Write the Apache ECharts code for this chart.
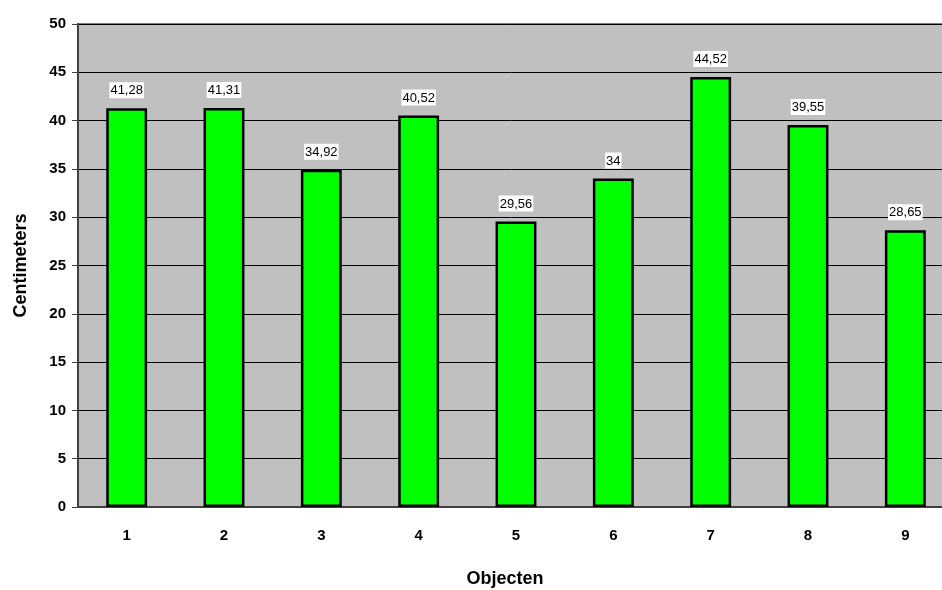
<!DOCTYPE html>
<html>
<head>
<meta charset="utf-8">
<script src="https://cdn.jsdelivr.net/npm/echarts@6/dist/echarts.min.js"></script>
<style>
  html, body { margin: 0; padding: 0; background: #ffffff; }
  #chart { width: 942px; height: 590px; }
</style>
</head>
<body>
<div id="chart"></div>
<script>
// Measured lengths per object (cm)
const categories = ['1', '2', '3', '4', '5', '6', '7', '8', '9'];
const values = [41.28, 41.31, 34.92, 40.52, 29.56, 34, 44.52, 39.55, 28.65];
const yTicks = { min: 0, max: 50, interval: 5 };

const fmt = v => String(v).replace('.', ',');

const chart = echarts.init(document.getElementById('chart'));
chart.setOption({
  animation: false,
  textStyle: { fontFamily: 'Liberation Sans, Arial, sans-serif' },
  grid: {
    left: 78, top: 24, width: 876, height: 483,
    outerBoundsMode: 'none',
    containLabel: false,
    show: true, backgroundColor: '#c0c0c0', borderColor: '#808080', borderWidth: 2
  },
  xAxis: {
    type: 'category',
    data: categories,
    name: 'Objecten',
    nameLocation: 'middle',
    nameGap: 63,
    nameTextStyle: { fontSize: 18, fontWeight: 'bold', color: '#000', padding: [0, 22, 0, 0] },
    axisLine: { lineStyle: { color: '#404040', width: 2 } },
    axisTick: { show: false },
    axisLabel: { fontSize: 15, fontWeight: 'bold', color: '#000', margin: 21 }
  },
  yAxis: {
    type: 'value',
    min: yTicks.min, max: yTicks.max, interval: yTicks.interval,
    name: 'Centimeters',
    nameLocation: 'middle',
    nameGap: 48,
    nameTextStyle: { fontSize: 18, fontWeight: 'bold', color: '#000' },
    axisLine: { show: true, lineStyle: { color: '#404040', width: 2 } },
    axisTick: { show: true, length: 6, lineStyle: { color: '#404040' } },
    axisLabel: { fontSize: 15, fontWeight: 'bold', color: '#000', margin: 12 },
    splitLine: { lineStyle: { color: '#000', width: 1 } }
  },
  series: [{
    type: 'bar',
    data: values,
    barWidth: '42%',
    itemStyle: { color: '#00ff00', borderColor: '#000', borderWidth: 2.5 },
    label: {
      show: true,
      position: 'top',
      distance: 10,
      formatter: p => fmt(p.value),
      fontSize: 13,
      color: '#000',
      backgroundColor: '#ffffff',
      padding: [2, 1, 1, 1]
    }
  }]
});
</script>
</body>
</html>
